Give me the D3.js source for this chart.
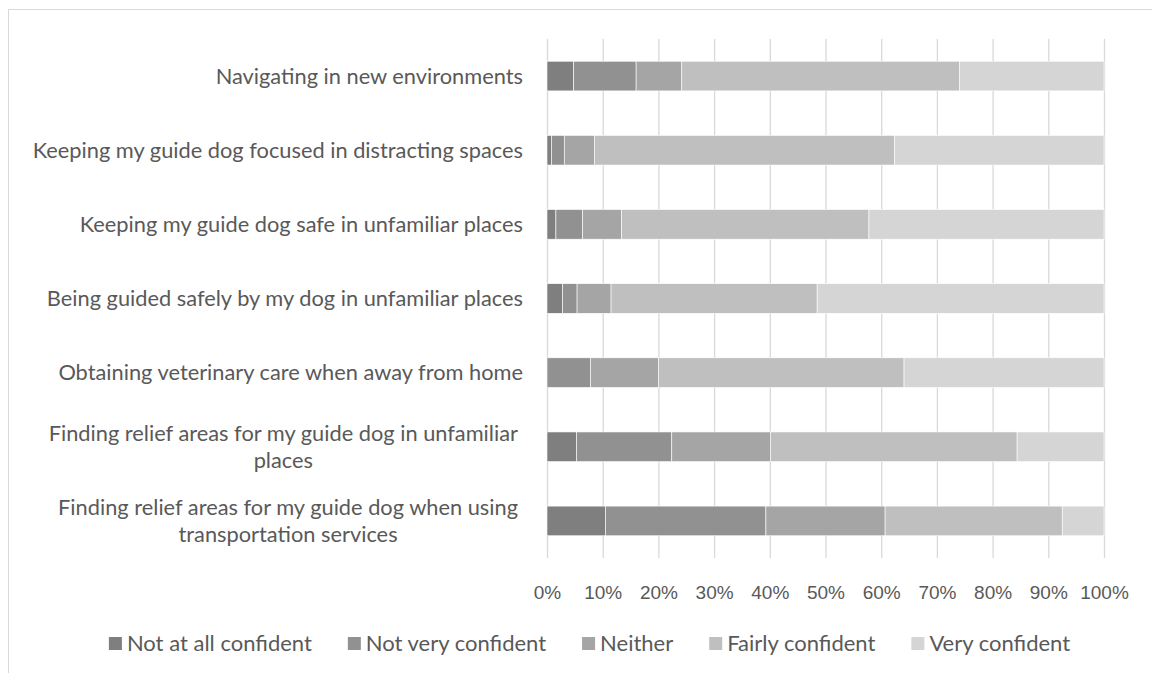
<!DOCTYPE html>
<html>
<head>
<meta charset="utf-8">
<script src="https://cdn.jsdelivr.net/npm/d3@7"></script>
<style>
  html, body { margin: 0; padding: 0; background: #fff; }
  svg { display: block; font-family: Lato, "Open Sans", sans-serif; }
</style>
</head>
<body>
<div id="chart"></div>
<script>
const WIDTH = 1152, HEIGHT = 673;

// categories, top to bottom; a "\n" marks where the label wraps
const categories = [
  "Navigating in new environments",
  "Keeping my guide dog focused in distracting spaces",
  "Keeping my guide dog safe in unfamiliar places",
  "Being guided safely by my dog in unfamiliar places",
  "Obtaining veterinary care when away from home",
  "Finding relief areas for my guide dog in unfamiliar\nplaces",
  "Finding relief areas for my guide dog when using\ntransportation services"
];
const seriesNames = ["Not at all confident", "Not very confident", "Neither", "Fairly confident", "Very confident"];
// percent shares per category (same order as categories)
const notAtAll   = [4.8, 0.8, 1.6, 2.8, 0.0, 5.3, 10.5];
const notVery    = [11.2, 2.3, 4.8, 2.6, 7.8, 17.1, 28.8];
const neither    = [8.2, 5.4, 7.0, 6.1, 12.2, 17.7, 21.4];
const fairly     = [49.9, 53.9, 44.4, 37.0, 44.1, 44.3, 31.8];
const very       = [25.9, 37.6, 42.2, 51.5, 35.9, 15.6, 7.5];
const xTicks = [0, 0.1, 0.2, 0.3, 0.4, 0.5, 0.6, 0.7, 0.8, 0.9, 1];

const colors = ["#7f7f7f", "#919191", "#a5a5a5", "#bfbfbf", "#d5d5d5"];
const textColor = "#595959";

const margin = {top: 39, right: 48, bottom: 115, left: 547};
const plotW = WIDTH - margin.left - margin.right;   // 557
const plotH = HEIGHT - margin.top - margin.bottom;  // 519

const rows = categories.map((c, i) => ({
  cat: c,
  "Not at all confident": notAtAll[i],
  "Not very confident": notVery[i],
  "Neither": neither[i],
  "Fairly confident": fairly[i],
  "Very confident": very[i]
}));
// normalise to 100%
rows.forEach(r => {
  const tot = d3.sum(seriesNames, k => r[k]);
  seriesNames.forEach(k => r[k] = r[k] / tot);
});

const stacked = d3.stack().keys(seriesNames)(rows);

const x = d3.scaleLinear().domain([0, 1]).range([0, plotW]);
const y = d3.scaleBand().domain(categories).range([0, plotH]).paddingInner(0.6).paddingOuter(0.3);
const color = d3.scaleOrdinal().domain(seriesNames).range(colors);

const svg = d3.select("#chart").append("svg")
  .attr("width", WIDTH)
  .attr("height", HEIGHT);

// chart frame (only top and left edges show in the crop)
svg.append("path")
  .attr("d", "M8.5," + HEIGHT + "V9.5H" + WIDTH)
  .attr("fill", "none")
  .attr("stroke", "#d9d9d9")
  .attr("stroke-width", 1);

const g = svg.append("g")
  .attr("transform", "translate(" + margin.left + "," + margin.top + ")");

// gridlines + tick labels
const xAxis = d3.axisBottom(x)
  .tickValues(xTicks)
  .tickFormat(d3.format(".0%"))
  .tickSize(-plotH)
  .tickPadding(28);

const axG = g.append("g")
  .attr("class", "x axis")
  .attr("transform", "translate(0," + plotH + ")")
  .call(xAxis);
axG.select(".domain").remove();
axG.selectAll("line").attr("stroke", "#d9d9d9").attr("stroke-width", 1.3);
axG.selectAll("text")
  .attr("fill", textColor)
  .style("font-size", "19px");

// bars
const layer = g.selectAll(".layer")
  .data(stacked)
  .enter().append("g")
    .attr("class", "layer")
    .attr("fill", d => color(d.key));

layer.selectAll("rect")
  .data(d => d)
  .enter().append("rect")
    .attr("x", d => x(d[0]))
    .attr("y", d => y(d.data.cat))
    .attr("width", d => Math.max(0, x(d[1]) - x(d[0])))
    .attr("height", y.bandwidth())
    .attr("stroke", "#fff")
    .attr("stroke-width", 0.6);

// category labels
const labelRight = -24;
const lineH = 27;
const labels = g.append("g").attr("class", "y labels")
  .style("font-size", "21.8px")
  .attr("fill", textColor);

categories.forEach(c => {
  const lines = c.split("\n");
  const cy = y(c) + y.bandwidth() / 2;
  const t = labels.append("text");
  if (lines.length === 1) {
    t.attr("x", labelRight).attr("y", cy).attr("dy", "0.35em")
      .attr("text-anchor", "end").text(c);
  } else {
    t.attr("text-anchor", "middle");
    const spans = lines.map((ln, i) => t.append("tspan")
      .attr("y", cy + (i - (lines.length - 1) / 2) * lineH)
      .attr("dy", "0.35em")
      .text(ln));
    const maxW = d3.max(spans, s => s.node().getComputedTextLength());
    const cx = labelRight - 5 - maxW / 2;
    spans.forEach(s => s.attr("x", cx));
  }
});

// legend
const legend = svg.append("g").attr("class", "legend")
  .style("font-size", "22px")
  .attr("fill", textColor);
const sq = 13, sqGap = 5, itemGap = 36, legendBase = 651;
let lx = 0;
seriesNames.forEach(name => {
  const it = legend.append("g").attr("transform", "translate(" + lx + ",0)");
  it.append("rect")
    .attr("x", 0).attr("y", legendBase - sq - 1)
    .attr("width", sq).attr("height", sq)
    .attr("fill", color(name));
  const tx = it.append("text")
    .attr("x", sq + sqGap).attr("y", legendBase)
    .text(name);
  lx += sq + sqGap + tx.node().getComputedTextLength() + itemGap;
});
lx -= itemGap;
legend.attr("transform", "translate(" + (589.5 - lx / 2) + ",0)");
</script>
</body>
</html>
